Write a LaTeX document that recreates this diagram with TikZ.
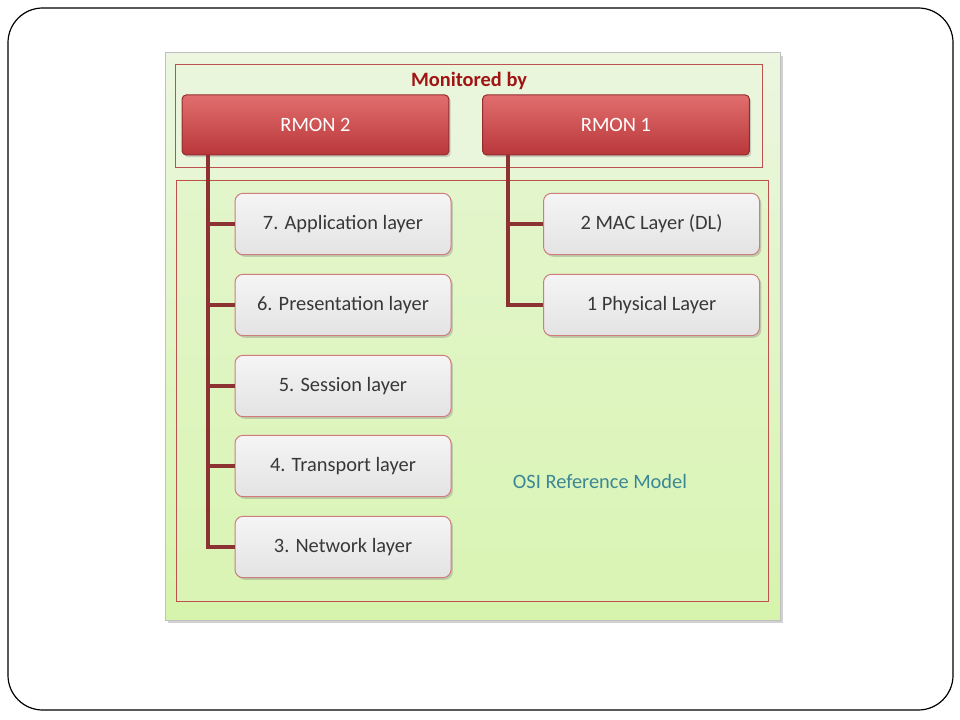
\documentclass[tikz,border=0pt]{standalone}
\usepackage{fontspec}
\setmainfont{Carlito}
\usetikzlibrary{shadows}

\definecolor{busred}{RGB}{140,50,50}
\definecolor{edgered}{RGB}{190,80,80}
\definecolor{rmontop}{RGB}{225,110,110}
\definecolor{rmonbot}{RGB}{185,55,58}
\definecolor{paneltop}{RGB}{236,246,224}
\definecolor{panelbot}{RGB}{214,244,172}
\definecolor{ositext}{RGB}{60,135,150}

\tikzset{every picture/.style={line width=0.75pt}}
\tikzset{
  layerbox/.style={draw=edgered!75, rounded corners=6pt, top color=white!96!black, bottom color=white!89!black,
    minimum width=162pt, minimum height=46pt, inner sep=0pt, text=black!78,
    font=\fontsize{15.3}{18}\selectfont,
    drop shadow={opacity=0.35, shadow xshift=1.4pt, shadow yshift=-1.6pt}},
  rmonbox/.style={draw=rmonbot!80!black, rounded corners=3pt, top color=rmontop, bottom color=rmonbot,
    minimum width=200pt, minimum height=45pt, inner sep=0pt, text=white,
    font=\fontsize{15.3}{18}\selectfont,
    drop shadow={opacity=0.35, shadow xshift=1.4pt, shadow yshift=-1.6pt}},
  bus/.style={draw=busred, line width=2.6pt},
  frame/.style={draw=edgered, line width=0.6pt}
}

\begin{document}
\begin{tikzpicture}[x=0.75pt,y=0.75pt,yscale=-1,xscale=1]
	\useasboundingbox (0,0) rectangle (960,720);

	% slide frame
	\draw [black, line width=0.9pt, rounded corners=26pt] (8,8) rectangle (953,710);

	% green panel
	\fill [black, opacity=0.18] (168,56) rectangle (783,623);
	\draw [draw=black!25, top color=paneltop, bottom color=panelbot] (165,53) rectangle (780,620);

	% monitored by frame
	\draw [frame, fill=paneltop!90!panelbot] (175,64) rectangle (762,167);
	\node (title) at (469,81) [font=\bfseries\fontsize{15.3}{18}\selectfont, text={rgb,255:red,160;green,20;blue,20}] {Monitored by};

	% osi frame
	\draw [frame, top color=panelbot!40!paneltop, bottom color=panelbot!85!paneltop] (176,180) rectangle (768,601);
	\node (osi) at (600,481) [font=\fontsize{15.3}{18}\selectfont, text=ositext] {OSI Reference Model};

	% monitors
	\node (rmon2) at (315.5,125) [rmonbox] {RMON 2};
	\node (rmon1) at (616,125) [rmonbox] {RMON 1};

	% layers
	\node (l7) at (343,224) [layerbox] {7. Application layer};
	\node (l6) at (343,305) [layerbox] {6. Presentation layer};
	\node (l5) at (343,386) [layerbox] {5. Session layer};
	\node (l4) at (343,466) [layerbox] {4. Transport layer};
	\node (l3) at (343,547) [layerbox] {3. Network layer};
	\node (l2) at (651.5,224) [layerbox] {2 MAC Layer (DL)};
	\node (l1) at (651.5,305) [layerbox] {1 Physical Layer};

	% buses
	\coordinate (b2) at (rmon2.south -| 208,0);
	\coordinate (b1) at (rmon1.south -| 508,0);
	\draw [bus] (b2) |- (l3.west);
	\foreach \n in {l7,l6,l5,l4} {
		\draw [bus] (b2 |- \n.west) -- (\n.west);
	}
	\draw [bus] (b1) |- (l1.west);
	\draw [bus] (b1 |- l2.west) -- (l2.west);

\end{tikzpicture}
\end{document}
